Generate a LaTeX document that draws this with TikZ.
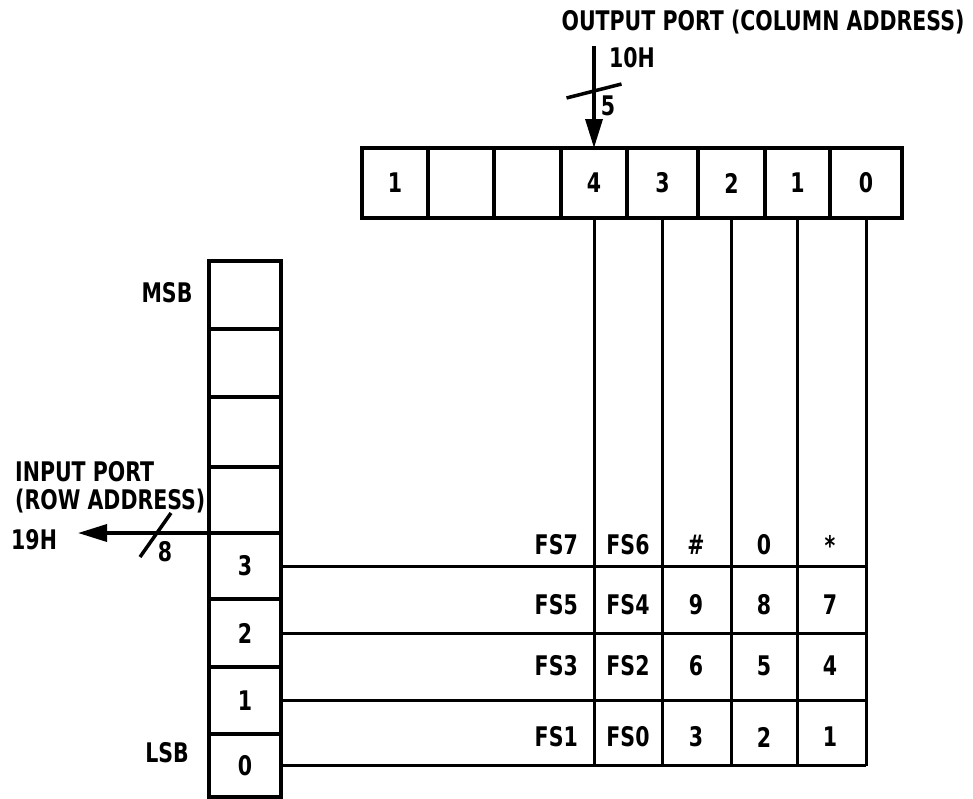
\documentclass[tikz,border=0pt]{standalone}
\usepackage{fontspec}
\setmainfont{DejaVu Sans}[FakeStretch=0.76, UprightFont=*, BoldFont=* Bold]
\usetikzlibrary{arrows.meta,positioning,calc}

\begin{document}
\begin{tikzpicture}[
  x=1pt, y=-1pt,
  >={Triangle[length=29pt,width=17pt]},
  font=\fontsize{27}{31}\selectfont\bfseries,
  cell/.style={rectangle, draw, line width=3.5pt, inner sep=0pt, outer sep=0pt, anchor=north west},
  wire/.style={line width=3pt},
  bus/.style={line width=3.5pt},
  tag/.style={inner sep=0pt}
]
\useasboundingbox (0,0) rectangle (973,798);

% Output port register (column address)
\foreach \l/\r/\lab/\nm in {362/428/1/out7, 428/494//out6, 494/561//out5, 561/627/4/out4,
                            627/698/3/out3, 698/765/2/out2, 765/830/1/out1, 830/902/0/out0}
  \node[cell, minimum width={(\r-\l)*1pt}, minimum height=70pt] (\nm) at (\l,148) {\lab};

% Input port register (row address)
\foreach \t/\b/\lab/\nm in {261/329//in7, 329/397//in6, 397/467//in5, 467/533//in4,
                            533/599/3/in3, 599/667/2/in2, 667/734/1/in1, 734/797/0/in0}
  \node[cell, minimum width=72pt, minimum height={(\b-\t)*1pt}] (\nm) at (209,\t) {\lab};

\node[tag] (msb) at (167,293) {MSB};
\node[tag] (lsb) at (167,753) {LSB};

% Output port bus
\node[tag] (outport) at (763,22) {OUTPUT PORT (COLUMN ADDRESS)};
\coordinate (outsrc) at ($(out4.north)+(0,-102)$);
\draw[bus,->] (outsrc) -- (out4.north);
\draw[bus] ($(outsrc)+(-27.5,52)$) -- ++(55,-14);
\node[tag] (outaddr) at (632,58) {10H};
\node[tag] (outbits) at (608,106) {5};

% Input port bus
\node[tag, anchor=west] (inport) at (15,472) {INPUT PORT};
\node[tag, anchor=west] (inrow) at (15,501) {(ROW ADDRESS)};
\coordinate (insink) at (78,533);
\draw[bus,->] (in4.south west) -- (insink);
\draw[bus] (140,557) -- (171,513);
\node[tag, anchor=west] (inaddr) at (11,540) {19H};
\node[tag] (inbits) at (165,552) {8};

% Key matrix
\foreach \row in {in3,in2,in1,in0}
  \draw[wire] (\row.east) -- (\row.east -| out0.south);
\foreach \col in {out4,out3,out2,out1,out0}
  \draw[wire] (\col.south) -- (\col.south |- in0.east);

\foreach \y/\a/\b/\c/\d/\e [count=\i] in {545/FS7/FS6/\#/0/*, 605/FS5/FS4/9/8/7,
                                         666/FS3/FS2/6/5/4, 737/FS1/FS0/3/2/1} {
  \node[tag, anchor=east] (key\i a) at (578,\y) {\a};
  \node[tag] (key\i b) at (628,\y) {\b};
  \node[tag] (key\i c) at (696,\y) {\c};
  \node[tag] (key\i d) at (764,\y) {\d};
  \node[tag] (key\i e) at (830,\y) {\e};
}
\end{tikzpicture}
\end{document}
